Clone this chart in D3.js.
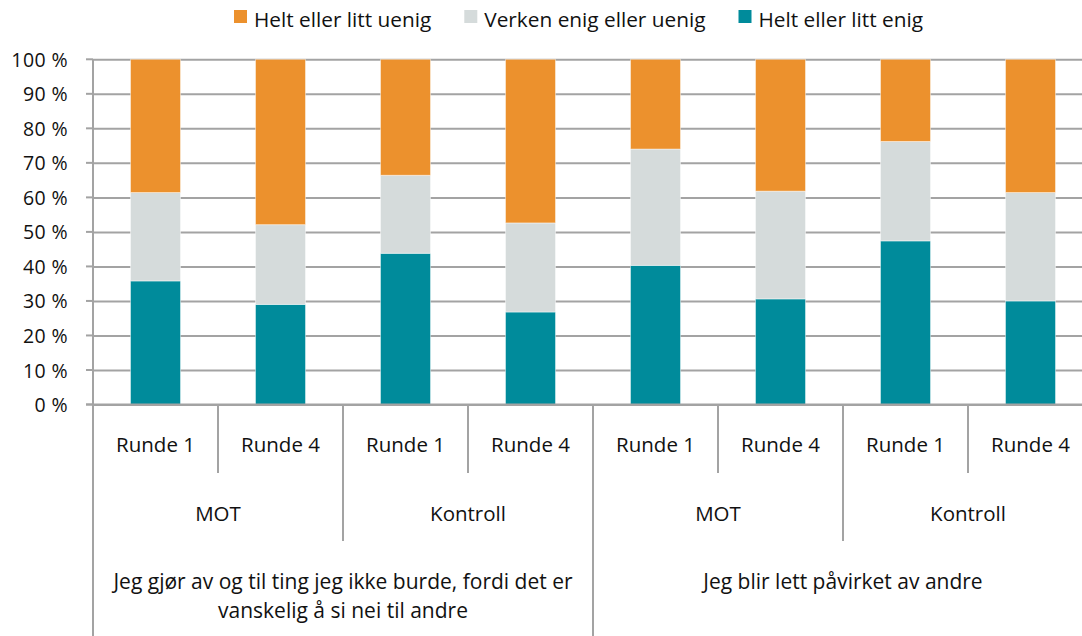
<!DOCTYPE html>
<html>
<head>
<meta charset="utf-8">
<script src="https://cdn.jsdelivr.net/npm/d3@7"></script>
<style>
  html, body { margin: 0; padding: 0; background: #fff; }
  svg text { font-family: "Open Sans", sans-serif; fill: #111; }
</style>
</head>
<body>
<svg id="chart" width="1082" height="636"></svg>
<script>
// ---- data ----
const rounds = ["Runde 1", "Runde 4", "Runde 1", "Runde 4", "Runde 1", "Runde 4", "Runde 1", "Runde 4"];
const groups = ["MOT", "Kontroll", "MOT", "Kontroll"];
const statements = [
  ["Jeg gjør av og til ting jeg ikke burde, fordi det er", "vanskelig å si nei til andre"],
  ["Jeg blir lett påvirket av andre"]
];
const seriesNames = ["Helt eller litt enig", "Verken enig eller uenig", "Helt eller litt uenig"];
const enig   = [35.8, 29.0, 43.8, 26.8, 40.3, 30.6, 47.4, 30.0];
const verken = [25.6, 23.1, 22.6, 25.8, 33.7, 31.2, 28.8, 31.4];
const uenig  = [38.6, 47.9, 33.6, 47.4, 26.0, 38.2, 23.8, 38.6];
const yTicks = [0, 10, 20, 30, 40, 50, 60, 70, 80, 90, 100];
const legendOrder = ["Helt eller litt uenig", "Verken enig eller uenig", "Helt eller litt enig"];

// ---- setup ----
const colors = {
  "Helt eller litt enig": "#008B9B",
  "Verken enig eller uenig": "#D5DBDB",
  "Helt eller litt uenig": "#EC912D"
};
const svg = d3.select("#chart");
const x0 = 93, x1 = 1093, yTop = 59.3, yBot = 404.5;
const idx = d3.range(rounds.length);
const x = d3.scaleBand().domain(idx).range([x0, x1]).paddingInner(0.6).paddingOuter(0.3);
const step = x.step();
const y = d3.scaleLinear().domain([0, 100]).range([yBot, yTop]);
const axisColor = "#a3a3a3";

const table = idx.map(i => ({
  i,
  "Helt eller litt enig": enig[i],
  "Verken enig eller uenig": verken[i],
  "Helt eller litt uenig": uenig[i]
}));
const stacked = d3.stack().keys(seriesNames)(table);

// gridlines
const yAxis = d3.axisLeft(y).tickValues(yTicks).tickSize(-(x1 - x0)).tickFormat(d => d + " %").tickPadding(25);
const gAxis = svg.append("g").attr("transform", `translate(${x0},0)`).call(yAxis);
gAxis.select(".domain").remove();
gAxis.selectAll(".tick line").attr("stroke", axisColor).attr("stroke-width", 2);
gAxis.selectAll(".tick text").attr("font-size", 19.5).attr("letter-spacing", 0.4).attr("dy", "0.36em").attr("fill", "#111");
// small outer ticks on left
svg.append("g").selectAll("line").data(yTicks).join("line")
  .attr("x1", x0 - 7).attr("x2", x0).attr("y1", d => y(d)).attr("y2", d => y(d))
  .attr("stroke", axisColor).attr("stroke-width", 2);

// bars
svg.append("g").selectAll("g").data(stacked).join("g")
  .attr("fill", d => colors[d.key])
  .selectAll("rect").data(d => d).join("rect")
  .attr("x", d => x(d.data.i))
  .attr("width", x.bandwidth())
  .attr("y", d => y(d[1]))
  .attr("height", d => y(d[0]) - y(d[1]))
  .attr("stroke", "rgba(255,255,255,0.45)").attr("stroke-width", 1);

// y-axis line
svg.append("line").attr("x1", x0).attr("x2", x0).attr("y1", yTop).attr("y2", 636)
  .attr("stroke", axisColor).attr("stroke-width", 2);
// x-axis line
svg.append("line").attr("x1", x0 - 7).attr("x2", x1).attr("y1", yBot).attr("y2", yBot)
  .attr("stroke", axisColor).attr("stroke-width", 2);

// multi-level category axis
const lvl1Bottom = 473, lvl2Bottom = 541, lvl3Bottom = 636;
const gCat = svg.append("g");
gCat.selectAll("line.l1").data(d3.range(1, rounds.length)).join("line").attr("class", "l1")
  .attr("x1", k => x0 + k * step).attr("x2", k => x0 + k * step)
  .attr("y1", yBot).attr("y2", k => (k % 4 === 0 ? lvl3Bottom : (k % 2 === 0 ? lvl2Bottom : lvl1Bottom)))
  .attr("stroke", axisColor).attr("stroke-width", 2);
gCat.selectAll("text.r").data(rounds).join("text").attr("class", "r")
  .attr("x", (d, i) => x(i) + x.bandwidth() / 2).attr("y", 452)
  .attr("text-anchor", "middle").attr("font-size", 20.5).text(d => d);
gCat.selectAll("text.g").data(groups).join("text").attr("class", "g")
  .attr("x", (d, i) => x0 + (i * 2 + 1) * step).attr("y", 521)
  .attr("text-anchor", "middle").attr("font-size", 20.5).text(d => d);
statements.forEach((lines, s) => {
  const cx = x0 + (s * 4 + 2) * step;
  gCat.append("text").attr("text-anchor", "middle").attr("font-size", 21)
    .selectAll("tspan").data(lines).join("tspan")
    .attr("x", cx).attr("y", (d, j) => 589 + j * 29).text(d => d);
});

// legend
const gLeg = svg.append("g");
let lx = 234;
legendOrder.forEach(name => {
  gLeg.append("rect").attr("x", lx).attr("y", 10).attr("width", 13).attr("height", 13).attr("fill", colors[name]);
  const t = gLeg.append("text").attr("x", lx + 20).attr("y", 27).attr("font-size", 20.8).text(name);
  lx += 20 + t.node().getComputedTextLength() + 33;
});
</script>
</body>
</html>
